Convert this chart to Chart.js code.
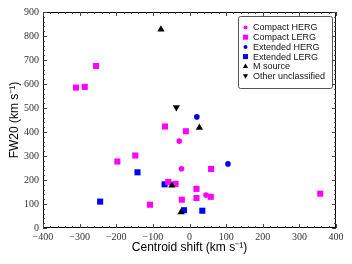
<!DOCTYPE html>
<html>
<head>
<meta charset="utf-8">
<script src="https://cdn.jsdelivr.net/npm/chart.js"></script>
<style>
  html, body { margin: 0; padding: 0; background: #fff; }
  #wrap { width: 352px; height: 264px; }
</style>
</head>
<body>
<div id="wrap"><canvas id="chart" width="352" height="264"></canvas></div>
<script>
// values: [centroid shift, FW20] in km/s
const compactHerg = [[-28, 362], [-22, 247], [45, 137]];
const compactLerg = [[-310, 585], [-286, 588], [-255, 675], [-67, 423], [-10, 403], [59, 246],
  [-58, 192], [-38, 184], [19, 163], [58, 130], [19, 125], [-21, 118], [-108, 97],
  [-197, 277], [-148, 302], [357, 143]];
const extendedHerg = [[20, 463], [105, 267]];
const extendedLerg = [[-68, 182], [-15, 74], [35, 72], [-142, 232], [-244, 110]];
const mSource = [[-78, 827], [27, 418], [-48, 177], [-23, 66]];
const otherUnclassified = [[-36, 503]];

const xTicks = [-400, -300, -200, -100, 0, 100, 200, 300, 400];
const yTicks = [0, 100, 200, 300, 400, 500, 600, 700, 800, 900];

const MAGENTA = '#ff00ff';
const BLUE = '#0000ff';
const BLACK = '#000000';

const toPts = arr => arr.map(p => ({ x: p[0], y: p[1] }));

// legend order, and the marker look for each entry
const series = [
  { label: 'Compact HERG', data: compactHerg, color: MAGENTA, style: 'circle', r: 2.8, rot: 0, order: 3 },
  { label: 'Compact LERG', data: compactLerg, color: MAGENTA, style: 'rect', r: 4.3, rot: 0, order: 2 },
  { label: 'Extended HERG', data: extendedHerg, color: BLUE, style: 'circle', r: 2.8, rot: 0, order: 4 },
  { label: 'Extended LERG', data: extendedLerg, color: BLUE, style: 'rect', r: 4.3, rot: 0, order: 5 },
  { label: 'M source', data: mSource, color: BLACK, style: 'triangle', r: 4.2, rot: 0, order: 1 },
  { label: 'Other unclassified', data: otherUnclassified, color: BLACK, style: 'triangle', r: 4.2, rot: 180, order: 0 }
];

const datasets = series.map(s => ({
  label: s.label,
  data: toPts(s.data),
  pointStyle: s.style,
  pointRadius: s.r,
  pointHoverRadius: s.r,
  pointRotation: s.rot,
  backgroundColor: s.color,
  borderColor: s.color,
  borderWidth: 0,
  order: s.order
}));

// frame on all four sides with inward major/minor ticks
const frameTicks = {
  id: 'frameTicks',
  afterDatasetsDraw(chart) {
    const { ctx, chartArea: a, scales: { x, y } } = chart;
    ctx.save();
    ctx.strokeStyle = '#000';
    ctx.lineWidth = 1;
    ctx.strokeRect(a.left + 0.5, a.top + 0.5, a.right - a.left - 1, a.bottom - a.top - 1);
    ctx.strokeStyle = '#444';
    ctx.beginPath();
    for (let v = -400; v <= 400; v += 20) {
      const px = Math.round(x.getPixelForValue(v)) + 0.5;
      const len = v % 100 === 0 ? 4 : 2;
      ctx.moveTo(px, a.bottom); ctx.lineTo(px, a.bottom - len);
      ctx.moveTo(px, a.top); ctx.lineTo(px, a.top + len);
    }
    for (let v = 0; v <= 900; v += 20) {
      const py = Math.round(y.getPixelForValue(v)) + 0.5;
      const len = v % 100 === 0 ? 4 : 2;
      ctx.moveTo(a.left, py); ctx.lineTo(a.left + len, py);
      ctx.moveTo(a.right, py); ctx.lineTo(a.right - len, py);
    }
    ctx.stroke();
    ctx.restore();
  }
};

// boxed legend in the upper right corner
const boxLegend = {
  id: 'boxLegend',
  afterDraw(chart) {
    const ctx = chart.ctx;
    const bx = 238, by = 16, bw = 94, bh = 72;
    ctx.save();
    ctx.fillStyle = '#fff';
    ctx.strokeStyle = '#555';
    ctx.lineWidth = 1;
    ctx.beginPath();
    ctx.roundRect(bx + 0.5, by + 0.5, bw, bh, 2);
    ctx.fill();
    ctx.stroke();
    ctx.font = '9px "Liberation Sans", Arial, sans-serif';
    ctx.textBaseline = 'middle';
    series.forEach((s, i) => {
      const ly = by + 11.5 + i * 9.7;
      const mx = 245.5;
      ctx.fillStyle = s.color;
      if (s.style === 'circle') {
        ctx.beginPath(); ctx.arc(mx, ly, 2, 0, Math.PI * 2); ctx.fill();
      } else if (s.style === 'rect') {
        ctx.fillRect(mx - 2.5, ly - 2.5, 5, 5);
      } else {
        ctx.beginPath();
        if (s.rot === 0) {
          ctx.moveTo(mx, ly - 2.8); ctx.lineTo(mx + 2.6, ly + 1.8); ctx.lineTo(mx - 2.6, ly + 1.8);
        } else {
          ctx.moveTo(mx, ly + 2.8); ctx.lineTo(mx + 2.6, ly - 1.8); ctx.lineTo(mx - 2.6, ly - 1.8);
        }
        ctx.closePath(); ctx.fill();
      }
      ctx.fillStyle = '#111';
      ctx.fillText(s.label, 253, ly + 0.5);
    });
    ctx.restore();
  }
};

const minus = v => String(v).replace('-', '\u2212');

new Chart(document.getElementById('chart'), {
  type: 'scatter',
  data: { datasets },
  options: {
    responsive: false,
    animation: false,
    events: [],
    layout: { padding: { left: 0, top: 12, right: 16, bottom: 0 } },
    plugins: { legend: { display: false }, tooltip: { enabled: false } },
    scales: {
      x: {
        type: 'linear',
        min: -400, max: 400,
        afterBuildTicks: s => { s.ticks = xTicks.map(v => ({ value: v })); },
        afterFit: s => { s.height = 36; },
        grid: { display: false, drawTicks: false },
        border: { display: false },
        ticks: {
          padding: 3,
          color: '#333',
          font: { family: '"Liberation Serif", "DejaVu Serif", serif', size: 10 },
          callback: v => minus(v),
          maxRotation: 0
        },
        title: {
          display: true,
          text: 'Centroid shift (km s\u207B\u00B9)',
          color: '#000',
          font: { family: '"Liberation Sans", Arial, sans-serif', size: 12 },
          padding: { top: 0, bottom: 9 }
        }
      },
      y: {
        type: 'linear',
        min: 0, max: 900,
        afterBuildTicks: s => { s.ticks = yTicks.map(v => ({ value: v })); },
        afterFit: s => { s.width = 43; },
        grid: { display: false, drawTicks: false },
        border: { display: false },
        ticks: {
          padding: 4,
          color: '#333',
          font: { family: '"Liberation Serif", "DejaVu Serif", serif', size: 10 },
          callback: v => minus(v)
        },
        title: {
          display: true,
          text: 'FW20 (km s\u207B\u00B9)',
          color: '#000',
          font: { family: '"Liberation Sans", Arial, sans-serif', size: 12 },
          padding: { top: 7.5, bottom: 0 }
        }
      }
    }
  },
  plugins: [frameTicks, boxLegend]
});
</script>
</body>
</html>
